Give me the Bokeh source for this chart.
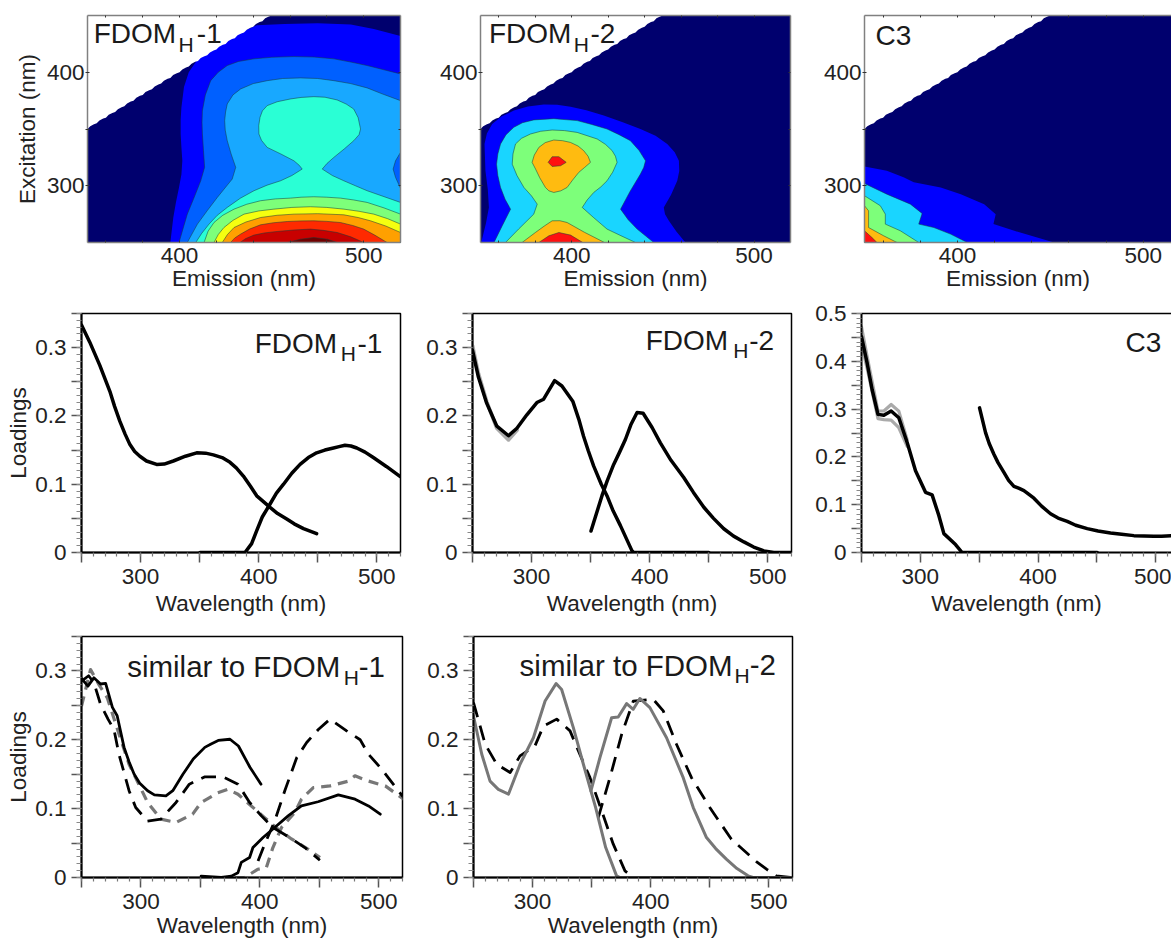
from bokeh.plotting import figure
from bokeh.layouts import row, column
from bokeh.models import LinearAxis, FixedTicker, Label, Range1d
from bokeh.embed import file_html
from bokeh.resources import INLINE

# ---------- excitation / emission landscape data (emission nm, excitation nm) ----------
edge_em = [350,351.5,353.5,355,356.5,358.5,360,361.5,363.5,365,366.5,368.5,370,371.5,373.5,375,376.5,378.5,380,381.5,383.5,
           385,386.5,388.5,390,391.5,393.5,395,396.5,398.5,400,401.5,403.5,405,406.5,408.5,410,411.5,413.5,415,416.5,418.5,
           420,421.5,423.5,425,426.5,428.5,430,431.5,433.5,435,436.5,438.5,440,441.5,443.5,445,446.5,448.5,450]
edge_ex = [350,352.5,354.2,355,357.5,359.2,360,362.5,364.2,365,367.5,369.2,370,372.5,374.2,375,377.5,379.2,380,382.5,384.2,
           385,387.5,389.2,390,392.5,394.2,395,397.5,399.2,400,402.5,404.2,405,407.5,409.2,410,412.5,414.2,415,417.5,419.2,
           420,422.5,424.2,425,427.5,429.2,430,432.5,434.2,435,437.5,439.2,440,442.5,444.2,445,447.5,449.2,450]

a1_em = [395,396.6,398,399.7,401,401.5,401,400.6,400.6,401,402.4,405,410,412,442,457,475,493,505.5,520,520]
a1_ex = [250,272,285,298.5,310,322,334,345.6,358,369,387,400,412,419,441.5,442.6,443.2,442,438,432,250]
a2_em = [399.7,404.2,408,411.5,413.6,413,412.4,412.2,412.4,414,416.9,421,425.9,432,440.4,450,462,473,483.8,493,501.9,520,520]
a2_ex = [250,275,290,304.4,316.2,331,345.6,356,366,380,392.6,400,405.9,409.5,411.8,413.2,413.8,413.4,411.8,409,405.9,398.5,250]
a3_em = [404.2,409.7,415,420.5,428.6,430.5,428,425.9,424.8,424.5,425,425.9,429,433.2,440,447.6,456,465.7,475,483.8,493,501.9,510,520,520,517.3,516,517.3,520,520]
a3_ex = [250,266.2,278,289.7,305.9,316.2,328,339.7,349,357.4,365,372.1,380,385.3,390,392.6,394.5,395,394.5,392.6,390,386.2,381,375,329.4,322,314.7,307.4,297.7,250]
a4_em = [408.8,412,416,420.5,425.9,433,440.4,447.5,454.9,461,466.6,465,462.1,455,447.6,444.5,443.1,443,443.7,445,447.6,453,460.3,466,472.9,479,485.6,490.5,494.6,497,498.3,497.5,494.6,489.5,483.8,480,477.5,483,489.2,495.5,501.9,510,520,520]
a4_ex = [250,258,266.2,274,280.9,289,295.6,300.5,304.4,309,314.7,318,322,328,333.8,340,345.6,353,360.3,366,370.6,374,376.5,377.8,378.5,378,375.6,372,367.6,360,350,345,339.7,332.5,325,319.5,314.7,309,304.4,300,295.6,291,285.3,250]
a5_em = [413.3,415.5,418.7,423.5,429.6,436.5,444,452,460.3,466,472.9,480,487.4,494.5,501.9,511,520,520]
a5_ex = [250,260,267.6,274,279.4,283.7,286.8,288.4,289.1,289.9,290.3,289.9,289.1,287.5,285.3,280.5,275,250]
a6_em = [418.7,421,424.1,429,435,443,451.2,461,471.1,480,489.2,497.5,505.5,513,520,520]
a6_ex = [250,257,263.2,269.5,275,277.8,279.4,280.9,281.5,280.9,279.4,277.5,275,271,266.2,250]
a7_em = [423.2,426,429.6,436,444,453,462.1,475,489.2,497,503.7,512,520,520]
a7_ex = [250,257,263.2,268,272,274,275,275.4,274.4,272,269.1,264.5,258.8,250]
a8_em = [427.7,430,433.2,438,444,451,458.5,466,472.9,480,487.4,494,500,506,512.7]
a8_ex = [250,254,257.4,261.8,265.6,267.4,268.5,269,269.1,268.6,267.6,265,261.8,256.5,250]
a9_em = [432.8,436,440.4,446,453,462,471.1,478,485.6,493,500]
a9_ex = [250,253.5,256.5,258.4,259.7,261,261.8,260.7,258.8,255,250]
a10_em = [458.5,465.7,472.9,480.2,485.6]
a10_ex = [250,252.9,254.4,252.9,250]

b1_em = [350.4,353,354.6,354,352.7,352.2,353.5,356.4,361.5,368.3,376,384.7,392,399.4,408,417.6,428,437.7,446,452.4,456.5,458.8,459,457.9,454.5,450.5,451.2,453.3,457.5,462.4]
b1_ex = [250,267,280.9,297,313.2,336.8,346,354.4,361,366.2,369.8,371.5,371.3,369.7,366.5,361.8,356,350,344,336.8,329.5,322,313,304.4,292,280.9,275,269.1,259.5,250]
b2_em = [357.4,362,366.5,363.5,361,359.5,358.8,359.5,361,364,368.3,373,379.2,390.2,403,411,419.4,426,432.2,437,440.5,439.5,437.7,432,426.8,431,435.9,445]
b2_ex = [250,265,279.4,288,298.5,309,319,328,336.8,345,351.5,355.5,358,359.1,357.4,354,350,345,339.7,331,322,316,310.3,295,279.4,270,261.8,250]
b3_em = [363.7,371,379.2,381.1,378,373.8,370,367.4,367.8,369.2,372.5,377.4,383,389.3,396,403,414,418.5,422.2,424,424.9,422.5,419.4,416,412.1,408.5,405.8,412,419.4,427,435]
b3_ex = [250,262,275,283.8,291,298.5,309,319,328,336.8,341.8,345.6,348,349.1,348.6,347,341.2,336.5,330.9,326,320.6,312,304.4,299,294.1,287.5,280.9,272,261.8,256,250]
b4_em = [378.3,380.2,382.5,385.6,387.5,390.2,394,397.5,400.5,403.9,407,410.3,409,406.6,403.5,399.3,395,390.2,385.5,382,379.5]
b4_ex = [320.6,314.7,307,298.5,295.5,294.1,295.5,298.5,305,311.8,316,320.6,326,330.9,335,338.2,339.7,340.3,338,333.8,327]
b5_em = [372.8,380.1,385,389.3,393.5,397.5,407,418]
b5_ex = [250,258.8,264.5,269.1,269.2,267.6,259,250]
b6_em = [387.1,389.3,393,397,393.9,389.3]
b6_ex = [320.6,325.6,325.6,320.6,317.6,317]
b7_em = [382,387.5,393,399.4,406.1]
b7_ex = [250,255.9,258.8,256.5,250]

c1_em = [350,362,371,376.5,391,401.8,414.4,420.6,419.4,430.6,452,350]
c1_ex = [317,313.2,307.4,303,298.5,292.6,283.8,275,266.2,260.3,250,250]
c2_em = [350,362,374.7,381,379.2,387.3,396.3,405.3,350]
c2_ex = [302,292.6,283.8,275.6,266.2,263.2,257.4,250,250]
c3_em = [350,358.5,361.2,361.2,369.3,379.2,350]
c3_ex = [291.2,282.4,275,266.2,260.3,250,250]
c4_em = [350,352.2,352.2,360.3,367.5,350]
c4_ex = [282.4,277.9,263.2,255.9,250,250]
c5_em = [350,354,356.7,350]
c5_ex = [260.3,254.4,250,250]

# ---------- loadings ----------
f1_ex_w = [250,257,265.5,274,278,282.5,287,291,295,299.4,305,313.6,320,327.7,338,347.5,355,361.6,369,375.7,381,387,393,398.3,403,409.6,416,423.7,430,437.9,449]
f1_ex_y = [.333,.308,.274,.236,.214,.192,.173,.158,.148,.141,.134,.129,.1295,.134,.141,.146,.1455,.143,.139,.132,.124,.112,.097,.083,.076,.066,.057,.049,.042,.035,.0276]
f1_em_w = [350.3,388.4,394,398.3,403,409.6,415,421,428,435,442,449,456,463.3,468,473,478,483,490,497,508,519.8]
f1_em_y = [0,0,.013,.032,.052,.071,.087,.100,.116,.129,.139,.146,.150,.153,.155,.157,.156,.153,.147,.139,.126,.111]

f2_ex_w = [250,255,262,270.6,280.5,287.6,296,304.5,310.2,319.5,325.7,335,340,344,348,352.5,359,363.8,369,375.1,385,386.4,450]
f2_ex_y = [.296,.257,.2187,.185,.171,.182,.2017,.2196,.2245,.2516,.2438,.221,.195,.1703,.149,.1268,.100,.0832,.061,.0397,.0024,0,0]
f2_ex_grey_w = [250,255,262,270.6,280.5,287.6]
f2_ex_grey_y = [.303,.262,.221,.182,.165,.179]
f2_em_w = [350.3,359.6,364,369.5,374.5,379.4,384,389.3,394.4,402,409,418,428.8,437,445.8,454,462.7,471,479.7,488,496.6,505,519.8]
f2_em_y = [.0314,.0832,.105,.129,.147,.1655,.187,.205,.204,.183,.1606,.135,.1098,.088,.0663,.05,.0348,.024,.0155,.008,.0024,0,0]

c3_ex_w = [250,254.8,259,264,269,275.2,281.7,288.8,295.9,304.4,310,315.7,320,329.9,335.5,450.3]
c3_ex_y = [.4515,.396,.341,.289,.287,.296,.282,.23,.171,.126,.1205,.0776,.0395,.0166,0,0]
c3_up_w = [250,254.8,264,269,275.2,281.7,288.8]
c3_up_y = [.472,.41,.296,.296,.3096,.2957,.236]
c3_lo_w = [250,254.8,264,269,275.2,281.7,288.8]
c3_lo_y = [.435,.385,.28,.278,.277,.261,.222]
c3_em_w = [350.3,355.4,358.5,362.5,366,371,375,379.5,384,388,392,396.5,403,410.6,417,424.8,432,441.8,451,461.6,471,481.4,490,498.4,505,513.5,519]
c3_em_y = [.3026,.2507,.228,.2057,.188,.1676,.151,.1385,.134,.1295,.122,.1136,.097,.081,.072,.0651,.057,.0499,.045,.0409,.038,.0353,.0345,.0339,.034,.0353,.036]

s1_solid_ex_w = [250,255.4,260.4,266,270.3,276,280,285.8,290,294.3,299,305.6,311.3,321,326.8,335.3,344,353.7,359,365,374.9,382,391.8,401]
s1_solid_ex_y = [.289,.278,.29,.281,.282,.247,.235,.189,.168,.15,.137,.126,.12,.1185,.126,.15,.172,.189,.194,.199,.2008,.191,.1597,.1355]
s1_solid_em_w = [350.6,367.5,376,381.6,384.4,391.4,394.2,402.7,412.5,423.8,435,449,466,480.1,491.4,501.3]
s1_solid_em_y = [.002,0,.002,.007,.022,.029,.0435,.058,.0726,.0895,.104,.11,.12,.1137,.104,.092]
s1_black_ex_w = [250,256,260.4,266,272.3,277.3,281.5,290,295.6,305.5,316.8,329.5,340.7,353.4,369,381.6,391.4,401.3,411.1,425.2,437.9,450.5]
s1_black_ex_y = [.285,.293,.283,.2516,.23,.215,.179,.126,.1016,.082,.0847,.109,.1355,.146,.146,.1355,.109,.0895,.0726,.058,.0435,.025]
s1_black_em_w = [398.5,404,412.5,421,431,439.4,449.2,459,473,484.4,491.4,502.7,512.5,521]
s1_black_em_y = [.024,.048,.082,.126,.174,.196,.215,.23,.213,.2,.179,.157,.135,.116]
s1_grey_ex_w = [250,257.6,264.7,271.7,281.6,290,305.6,316.8,329.5,343.5,350.6,364.6,373,381.6,391.4,404,415.4,426.6,440.7,450.6]
s1_grey_ex_y = [.249,.302,.28,.261,.208,.1645,.109,.0847,.08,.092,.109,.123,.128,.121,.106,.087,.07,.056,.041,.029]
s1_grey_em_w = [350.6,387,398.5,405.5,411,418.2,429.4,435,445,459,474.5,480,491.4,505.5,521]
s1_grey_em_y = [0,0,.012,.0145,.0435,.0726,.0943,.1137,.1306,.133,.14,.1476,.14,.133,.1137]

s2_grey_ex_w = [250,257,264,271,279.6,289.4,300.7,310.6,319.9,324.6,334.5,343,353.4,361.9,371.1,374,450]
s2_grey_ex_y = [.2346,.179,.14,.128,.121,.1645,.203,.2564,.2816,.273,.2177,.1645,.1016,.0435,.0024,0,0]
s2_grey_em_w = [349.4,357,366.9,372.5,379.6,385.2,390.8,399.3,413.4,427.5,436,447.2,455,464,473,482.4,486.6,519]
s2_grey_em_y = [.1258,.174,.232,.233,.2525,.2443,.26,.2467,.203,.145,.1016,.058,.042,.0266,.013,.0024,0,0]
s2_black_ex_w = [250,259.9,269.7,281,289.4,302,309.2,320.4,331.7,340,348.6,358.5,368.3,378.2,385.2,407]
s2_black_ex_y = [.254,.1935,.1645,.1524,.1766,.191,.22,.23,.213,.179,.145,.0968,.0484,.0097,0,0]
s2_black_em_w = [355.6,365.5,375.4,385.2,402,410.6,421.8,434.5,450,468.3,489.4,498,506.3,519]
s2_black_em_y = [.087,.145,.208,.256,.259,.242,.1935,.145,.1016,.0556,.0232,.0121,.0024,0]

# ---------- tick labels ----------
load_ticks = [0,.05,.1,.15,.2,.25,.3,.35]
load_labels = {0:"0",.05:"",.1:"0.1",.15:"",.2:"0.2",.25:"",.3:"0.3",.35:""}
load5_ticks = [0,.05,.1,.15,.2,.25,.3,.35,.4,.45,.5]
load5_labels = {0:"0",.05:"",.1:"0.1",.15:"",.2:"0.2",.25:"",.3:"0.3",.35:"",.4:"0.4",.45:"",.5:"0.5"}
wave_ticks = [250,300,350,400,450,500]
wave_labels = {250:"",300:"300",350:"",400:"400",450:"",500:"500"}
em_ticks = [360,380,400,420,440,460,480,500]
em_labels = {360:"",380:"",400:"400",420:"",440:"",460:"",480:"",500:"500"}
ex_ticks = [300,350,400]
ex_labels = {300:"300",350:"",400:"400"}

FONT = "Liberation Sans"
TXT = "#222222"
NAVY = "#00006e"
BLUE = "#0000ff"
MID = "#0060ff"
SKY = "#18a8ff"
AQUA = "#2affd5"
LIGHT = "#19d5ff"
GREEN = "#7dff7a"
YELLOW = "#f5ff10"
ORANGE = "#ffa000"
AMBER = "#ffbb10"
RED = "#ff2a00"
PURE = "#ff1010"
DARKRED = "#c80000"
DEEP = "#700000"


def base(w, h, left, right, top, bottom, xr, yr):
    p = figure(width=w, height=h, x_range=Range1d(*xr), y_range=Range1d(*yr),
               min_border_left=left, min_border_right=right, min_border_top=top, min_border_bottom=bottom,
               toolbar_location=None, output_backend="svg", x_axis_type=None, y_axis_type=None,
               background_fill_color=None, border_fill_color=None)
    p.grid.visible = False
    return p


def style_labels(ax):
    ax.major_label_text_font = FONT
    ax.major_label_text_font_size = "22.5px"
    ax.major_label_text_color = TXT
    ax.axis_label_text_font = FONT
    ax.axis_label_text_font_size = "22.5px"
    ax.axis_label_text_font_style = "normal"
    ax.axis_label_text_color = TXT


def name_text(p, x, y, text, size=28):
    p.add_layout(Label(x=x, y=y, text=text, text_font=FONT, text_font_size=f"{size}px",
                       text_color="#1a1a1a", text_baseline="alphabetic", y_offset=round(size * 0.43)))


def landscape(w, h, left, right, top, bottom, em_end, bands, ylabel=None):
    p = base(w, h, left, right, top, bottom, (350, em_end), (250, 450))
    p.quad(left=[350], right=[520], bottom=[250], top=[450], fill_color=NAVY, line_color=None)
    for em, ex, colour in bands:
        p.patch(em, ex, fill_color=colour, line_color=None if colour == BLUE else "#163c3c",
                line_alpha=0.65, line_width=0.8)
    p.patch(edge_em + [350], edge_ex + [450], fill_color="white", line_color=None)
    p.outline_line_color = None
    bx = LinearAxis(ticker=FixedTicker(ticks=em_ticks), major_label_overrides=em_labels,
                    axis_label="Emission (nm)", major_tick_out=0, major_tick_in=2,
                    major_tick_line_color="#333333", minor_tick_line_color=None,
                    axis_line_color="#808080", axis_line_width=1.5,
                    major_label_standoff=5, axis_label_standoff=0)
    style_labels(bx)
    p.add_layout(bx, "below")
    ly = LinearAxis(ticker=FixedTicker(ticks=ex_ticks), major_label_overrides=ex_labels,
                    axis_label=ylabel, major_tick_out=2, major_tick_in=2,
                    major_tick_line_color="#333333", minor_tick_line_color=None,
                    axis_line_color="#808080", axis_line_width=1.5,
                    major_label_standoff=1, axis_label_standoff=4)
    style_labels(ly)
    p.add_layout(ly, "left")
    tx = LinearAxis(ticker=FixedTicker(ticks=em_ticks), major_label_text_color=None,
                    major_label_text_font_size="1px", major_tick_out=0, major_tick_in=2,
                    major_tick_line_color="#333333", minor_tick_line_color=None,
                    axis_line_color="#808080", axis_line_width=1.5, major_label_standoff=0)
    p.add_layout(tx, "above")
    if em_end >= 520:
        ry = LinearAxis(ticker=FixedTicker(ticks=ex_ticks), major_label_text_color=None,
                        major_label_text_font_size="1px", major_tick_out=0, major_tick_in=2,
                        major_tick_line_color="#333333", minor_tick_line_color=None,
                        axis_line_color="#808080", axis_line_width=1.5, major_label_standoff=0)
        p.add_layout(ry, "right")
    return p


def loadings(w, h, left, right, top, bottom, wl_end, ymax, ylabel=None, label_gap=4):
    p = base(w, h, left, right, top, bottom, (250, wl_end), (0, ymax))
    ticks = load5_ticks if ymax == 0.5 else load_ticks
    labels = load5_labels if ymax == 0.5 else load_labels
    minor = [i / 100 for i in range(0, int(ymax * 100) + 1)]
    ly = LinearAxis(ticker=FixedTicker(ticks=ticks, minor_ticks=minor), major_label_overrides=labels,
                    axis_label=ylabel, major_tick_out=10, major_tick_in=0, minor_tick_out=5, minor_tick_in=0,
                    major_tick_line_color="#555555", minor_tick_line_color="#888888",
                    major_tick_line_width=1.5, minor_tick_line_width=1.2,
                    axis_line_color="black", axis_line_width=2,
                    major_label_standoff=5, axis_label_standoff=1)
    style_labels(ly)
    p.add_layout(ly, "left")
    bx = LinearAxis(ticker=FixedTicker(ticks=wave_ticks, minor_ticks=list(range(250, 530, 10))),
                    major_label_overrides=wave_labels, axis_label="Wavelength (nm)",
                    major_tick_out=10, major_tick_in=0, minor_tick_out=4, minor_tick_in=0,
                    major_tick_line_color="#555555", minor_tick_line_color="#777777",
                    major_tick_line_width=1.5, minor_tick_line_width=1.2,
                    axis_line_color="black", axis_line_width=2,
                    major_label_standoff=6, axis_label_standoff=label_gap)
    style_labels(bx)
    p.add_layout(bx, "below")
    if wl_end >= 520:
        p.outline_line_color = "black"
        p.outline_line_width = 1.5
    else:
        p.outline_line_color = None
        tx = LinearAxis(ticker=FixedTicker(ticks=[]), major_label_text_color=None,
                        major_label_text_font_size="1px", major_tick_line_color=None,
                        minor_tick_line_color=None, axis_line_color="black", axis_line_width=1.5,
                        major_label_standoff=0)
        p.add_layout(tx, "above")
    return p


def line(p, x, y, colour="black", width=3.5, dash="solid"):
    p.line(x, y, line_color=colour, line_width=width, line_dash=dash, line_join="round",
           line_cap="round" if dash == "solid" else "butt")


# ---------- row 1 ----------
H1 = 296
p11 = landscape(425, H1, 87, 25, 15, 54, 520, [
    (a1_em, a1_ex, BLUE), (a2_em, a2_ex, MID), (a3_em, a3_ex, SKY), (a4_em, a4_ex, AQUA),
    (a5_em, a5_ex, GREEN), (a6_em, a6_ex, YELLOW), (a7_em, a7_ex, ORANGE), (a8_em, a8_ex, RED),
    (a9_em, a9_ex, DARKRED), (a10_em, a10_ex, DEEP)], ylabel="Excitation (nm)")
name_text(p11, 353.4, 423.6, "FDOM")
name_text(p11, 399.4, 416.3, "H", 21)
name_text(p11, 409.4, 423.6, "-1")

p12 = landscape(385, H1, 55, 20, 15, 54, 520, [
    (b1_em, b1_ex, BLUE), (b2_em, b2_ex, LIGHT), (b3_em, b3_ex, GREEN), (b4_em, b4_ex, AMBER),
    (b5_em, b5_ex, AMBER), (b6_em, b6_ex, PURE), (b7_em, b7_ex, PURE)])
name_text(p12, 354.6, 423.6, "FDOM")
name_text(p12, 401.2, 416.3, "H", 21)
name_text(p12, 410.3, 423.6, "-2")

p13 = landscape(361, H1, 54, 0, 15, 54, 515.2, [
    (c1_em, c1_ex, BLUE), (c2_em, c2_ex, LIGHT), (c3_em, c3_ex, GREEN), (c4_em, c4_ex, AMBER),
    (c5_em, c5_ex, PURE)])
name_text(p13, 355.9, 422, "C3")

# ---------- row 2 ----------
H2 = 322
p21 = loadings(415, H2, 81, 15, 15, 66, 520, 0.35, ylabel="Loadings")
line(p21, f1_ex_w, f1_ex_y)
line(p21, f1_em_w, f1_em_y)
name_text(p21, 396.6, .288, "FDOM")
name_text(p21, 469.5, .2787, "H", 21)
name_text(p21, 483.6, .288, "-1")

p22 = loadings(395, H2, 57, 19, 17, 64, 520, 0.35)
line(p22, f2_ex_grey_w, f2_ex_grey_y, "#aaaaaa", 3.8)
line(p22, f2_ex_w, f2_ex_y)
line(p22, f2_em_w, f2_em_y)
name_text(p22, 396.6, .2927, "FDOM")
name_text(p22, 470.6, .2826, "H", 21)
name_text(p22, 484.2, .2927, "-2")

p23 = loadings(361, H2, 51, 0, 17, 64, 513.4, 0.5)
line(p23, c3_up_w, c3_up_y, "#aaaaaa", 3.2)
line(p23, c3_lo_w, c3_lo_y, "#aaaaaa", 3.2)
line(p23, c3_ex_w, c3_ex_y)
line(p23, c3_em_w, c3_em_y)
name_text(p23, 474.3, .4143, "C3")

# ---------- row 3 ----------
H3 = 322
p31 = loadings(415, H3, 81, 13, 18, 63, 520, 0.35, ylabel="Loadings", label_gap=1)
line(p31, s1_grey_ex_w, s1_grey_ex_y, "#777777", 3.2, "10 7")
line(p31, s1_grey_em_w, s1_grey_em_y, "#777777", 3.2, "10 7")
line(p31, s1_black_ex_w, s1_black_ex_y, "black", 2.8, "15 9")
line(p31, s1_black_em_w, s1_black_em_y, "black", 2.8, "15 9")
line(p31, s1_solid_ex_w, s1_solid_ex_y, "black", 2.8)
line(p31, s1_solid_em_w, s1_solid_em_y, "black", 2.8)
name_text(p31, 288.4, .2875, "similar to FDOM", 29.5)
name_text(p31, 470.6, .278, "H", 21)
name_text(p31, 483.2, .2875, "-1", 29.5)

p32 = loadings(395, H3, 58, 18, 18, 63, 520, 0.35, label_gap=1)
line(p32, s2_black_ex_w, s2_black_ex_y, "black", 2.8, "15 9")
line(p32, s2_black_em_w, s2_black_em_y, "black", 2.8, "15 9")
line(p32, s2_grey_ex_w, s2_grey_ex_y, "#777777", 3)
line(p32, s2_grey_em_w, s2_grey_em_y, "#777777", 3)
name_text(p32, 289, .2895, "similar to FDOM", 29.5)
name_text(p32, 471, .28, "H", 21)
name_text(p32, 483.8, .2895, "-2", 29.5)

page = column(row(p11, p12, p13, spacing=0), row(p21, p22, p23, spacing=0), row(p31, p32, spacing=0), spacing=0)
open("out.html", "w").write(file_html(page, INLINE))
